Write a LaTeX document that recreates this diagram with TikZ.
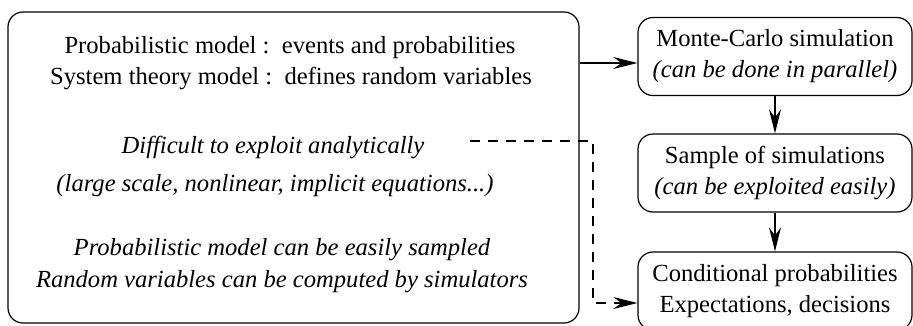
\documentclass[tikz,border=0pt]{standalone}
\usepackage{fontspec}
\setmainfont{Liberation Serif}
\usetikzlibrary{arrows.meta}
\begin{document}
\begin{tikzpicture}[x=1pt,y=-1pt,
  box/.style={draw, line width=1.2pt, rounded corners=15pt, inner sep=0pt},
  txt/.style={font=\fontsize{24.6}{31}\selectfont, align=center, inner sep=0pt},
  itxt/.style={txt, font=\fontsize{24.6}{31}\selectfont\itshape},
  link/.style={line width=1.2pt, -{Stealth[length=24pt,width=12pt,inset=8pt]}},
  dlink/.style={link, dash pattern=on 10pt off 8pt}]
\useasboundingbox (0,0) rectangle (913,325);

% left model box
\node[box, minimum width=571pt, minimum height=311pt] (model) at (293.5,167.5) {};
\node[txt] (t1) at (290,48) {Probabilistic model :\ \ events and probabilities};
\node[txt] (t2) at (291,78) {System theory model :\ \ defines random variables};
\node[itxt] (t3) at (273,147) {Difficult to exploit analytically};
\node[itxt] (t4) at (275,186) {(large scale, nonlinear, implicit equations...)};
\node[itxt] (t5) at (282,250) {Probabilistic model can be easily sampled};
\node[itxt] (t6) at (282,282) {Random variables can be computed by simulators};

% processing chain
\node[box, minimum width=274pt, minimum height=78pt, txt] (mc) at (775,56.5)
  {Monte-Carlo simulation\\\textit{(can be done in parallel)}};
\node[box, minimum width=274pt, minimum height=78pt, txt] (samp) at (775,173)
  {Sample of simulations\\\textit{(can be exploited easily)}};
\node[box, minimum width=274pt, minimum height=78pt, txt] (cond) at (775,291)
  {Conditional probabilities\\Expectations, decisions};

\coordinate (d0) at (470,141);
\coordinate (d1) at (593,141);
\coordinate (d2) at (593,303);

\draw[link] (model.east |- 0,63) -- (mc.west |- 0,63);
\draw[link] (mc) -- (samp);
\draw[link] (samp) -- (cond);
\draw[dlink] (d0) -- (d1) -- (d2) -- (cond.west |- d2);
\end{tikzpicture}
\end{document}
